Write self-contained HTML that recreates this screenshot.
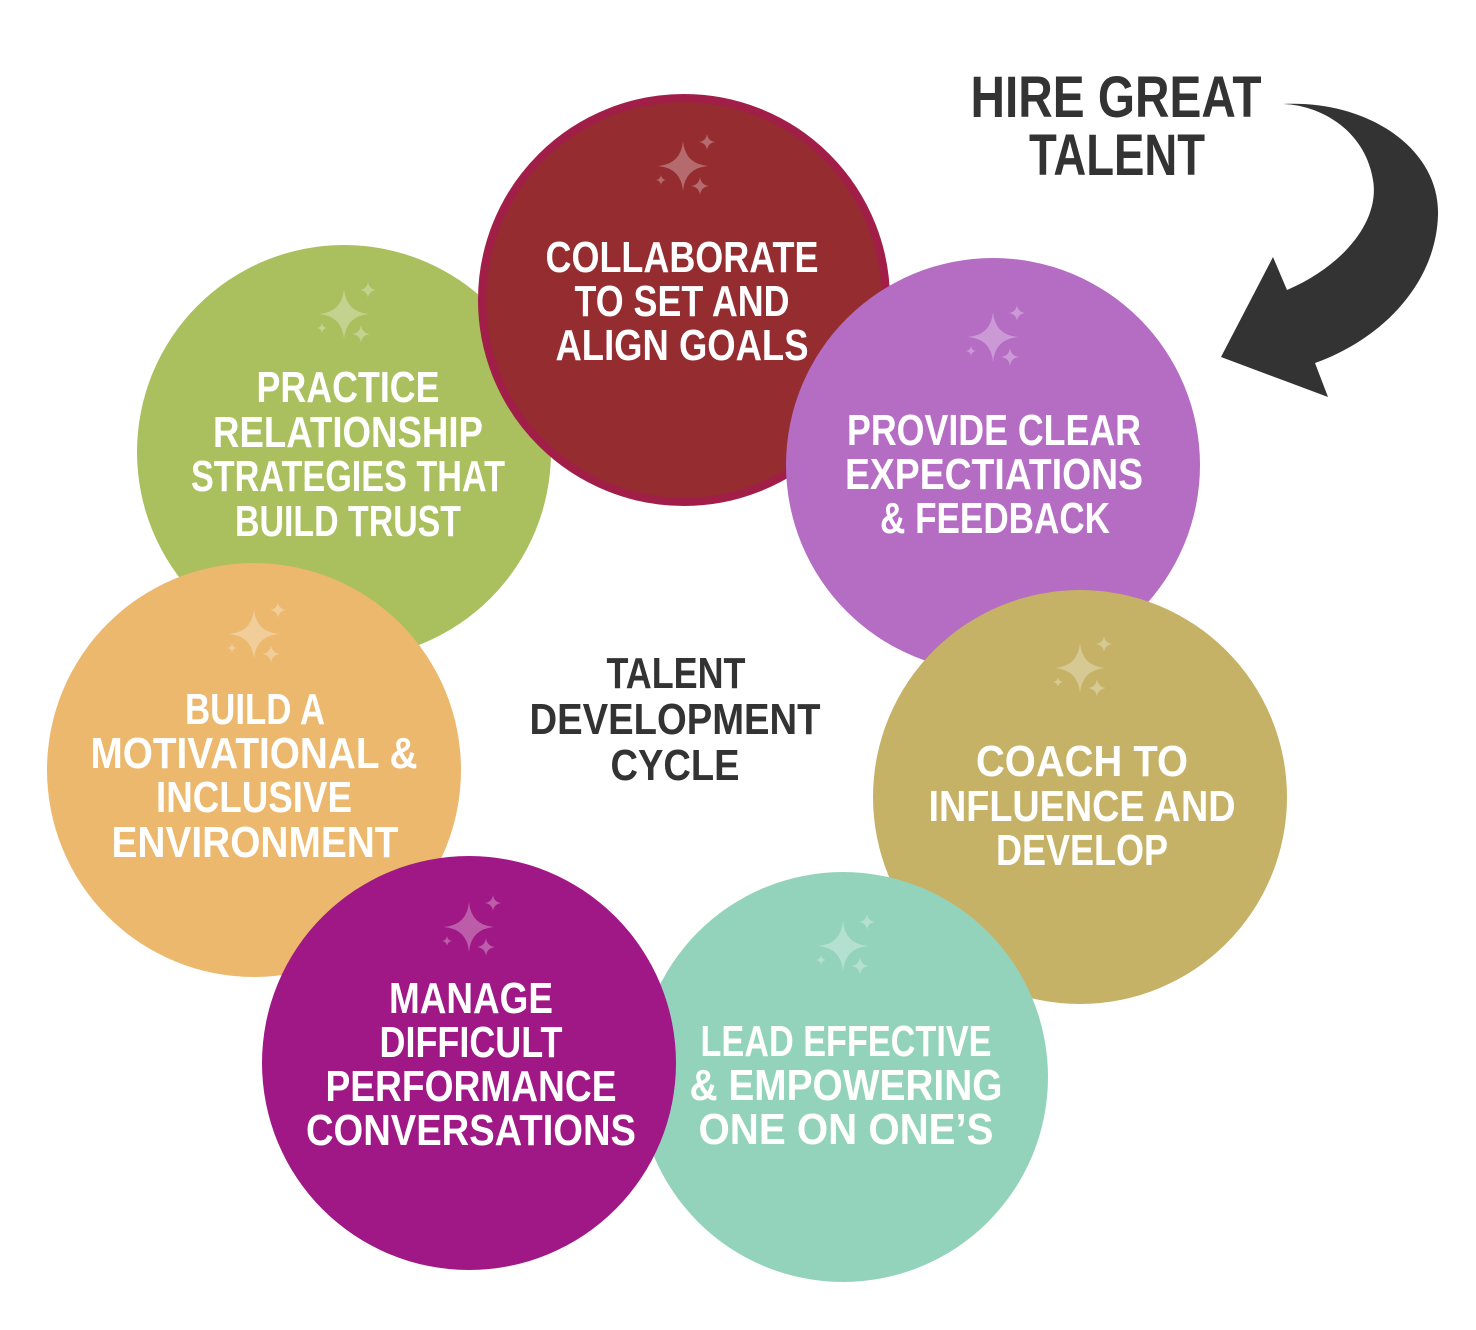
<!DOCTYPE html>
<html><head><meta charset="utf-8"><style>
html,body{margin:0;padding:0;background:#fff;}
svg{display:block}
text{font-family:"Liberation Sans",sans-serif;font-weight:bold;}
</style></head><body>
<svg width="1476" height="1330" viewBox="0 0 1476 1330" xmlns="http://www.w3.org/2000/svg">
<defs>
<g id="sp" fill="#fff" fill-opacity="0.3">
<path d="M0,-25 Q2,-2 25,0 Q2,2 0,25 Q-2,2 -25,0 Q-2,-2 0,-25Z"/>
<path transform="translate(24,-24)" d="M0,-8 Q1,-1 8,0 Q1,1 0,8 Q-1,1 -8,0 Q-1,-1 0,-8Z"/>
<path transform="translate(17,20)" d="M0,-9 Q1,-1 9,0 Q1,1 0,9 Q-1,1 -9,0 Q-1,-1 0,-9Z"/>
<path transform="translate(-22,14)" d="M0,-5 Q0.6,-0.6 5,0 Q0.6,0.6 0,5 Q-0.6,0.6 -5,0 Q-0.6,-0.6 0,-5Z"/>
</g>
</defs>

<!-- green -->
<circle cx="344" cy="452" r="207" fill="#AABF5E"/>
<use href="#sp" x="344" y="314"/>
<!-- orange -->
<circle cx="254" cy="770" r="207" fill="#EBB86D"/>
<use href="#sp" x="254" y="634"/>
<!-- red -->
<circle cx="684" cy="300" r="202" fill="#952C30" stroke="#A01E48" stroke-width="8"/>
<use href="#sp" x="683" y="166"/>
<!-- purple -->
<circle cx="993" cy="465" r="207" fill="#B56DC4"/>
<use href="#sp" x="993" y="337"/>
<!-- olive -->
<circle cx="1080" cy="797" r="207" fill="#C6B266"/>
<use href="#sp" x="1080" y="668"/>
<!-- teal -->
<circle cx="843" cy="1077" r="205" fill="#93D3BC"/>
<use href="#sp" x="843" y="946"/>
<!-- magenta -->
<circle cx="469" cy="1063" r="207" fill="#A01886"/>
<use href="#sp" x="469" y="927"/>

<g fill="#fff" font-size="44" text-anchor="middle" lengthAdjust="spacingAndGlyphs">
<text x="682" y="272" textLength="273" lengthAdjust="spacingAndGlyphs">COLLABORATE</text>
<text x="682" y="316" textLength="215" lengthAdjust="spacingAndGlyphs">TO SET AND</text>
<text x="682" y="360" textLength="253" lengthAdjust="spacingAndGlyphs">ALIGN GOALS</text>

<text x="348" y="402" textLength="183" lengthAdjust="spacingAndGlyphs">PRACTICE</text>
<text x="348" y="447" textLength="270" lengthAdjust="spacingAndGlyphs">RELATIONSHIP</text>
<text x="348" y="491" textLength="314" lengthAdjust="spacingAndGlyphs">STRATEGIES THAT</text>
<text x="348" y="536" textLength="226" lengthAdjust="spacingAndGlyphs">BUILD TRUST</text>

<text x="994" y="445" textLength="294" lengthAdjust="spacingAndGlyphs">PROVIDE CLEAR</text>
<text x="994" y="489" textLength="298" lengthAdjust="spacingAndGlyphs">EXPECTIATIONS</text>
<text x="995" y="533" textLength="230" lengthAdjust="spacingAndGlyphs">&amp; FEEDBACK</text>

<text x="1082" y="776" textLength="212" lengthAdjust="spacingAndGlyphs">COACH TO</text>
<text x="1082" y="821" textLength="307" lengthAdjust="spacingAndGlyphs">INFLUENCE AND</text>
<text x="1082" y="865" textLength="172" lengthAdjust="spacingAndGlyphs">DEVELOP</text>

<text x="255" y="724" textLength="140" lengthAdjust="spacingAndGlyphs">BUILD A</text>
<text x="254" y="768" textLength="327" lengthAdjust="spacingAndGlyphs">MOTIVATIONAL &amp;</text>
<text x="254" y="812" textLength="196" lengthAdjust="spacingAndGlyphs">INCLUSIVE</text>
<text x="255" y="857" textLength="287" lengthAdjust="spacingAndGlyphs">ENVIRONMENT</text>

<text x="471" y="1013" textLength="164" lengthAdjust="spacingAndGlyphs">MANAGE</text>
<text x="471" y="1057" textLength="183" lengthAdjust="spacingAndGlyphs">DIFFICULT</text>
<text x="471" y="1101" textLength="291" lengthAdjust="spacingAndGlyphs">PERFORMANCE</text>
<text x="471" y="1145" textLength="330" lengthAdjust="spacingAndGlyphs">CONVERSATIONS</text>

<text x="846" y="1056" textLength="291" lengthAdjust="spacingAndGlyphs">LEAD EFFECTIVE</text>
<text x="846" y="1100" textLength="313" lengthAdjust="spacingAndGlyphs">&amp; EMPOWERING</text>
<text x="846" y="1144" textLength="295" lengthAdjust="spacingAndGlyphs">ONE ON ONE’S</text>
</g>

<g fill="#333" font-size="44" text-anchor="middle">
<text x="676" y="688" textLength="139" lengthAdjust="spacingAndGlyphs">TALENT</text>
<text x="675" y="734" textLength="291" lengthAdjust="spacingAndGlyphs">DEVELOPMENT</text>
<text x="675" y="780" textLength="129" lengthAdjust="spacingAndGlyphs">CYCLE</text>
<text x="1116" y="117" font-size="58" textLength="291" lengthAdjust="spacingAndGlyphs">HIRE GREAT</text>
<text x="1117" y="175" font-size="58" textLength="176" lengthAdjust="spacingAndGlyphs">TALENT</text>
</g>

<path fill="#333" d="M1283,104 C1370,100 1440,150 1438,215 C1436,285 1380,340 1315,363 L1328,397 L1221,357 L1273,257 L1287,290 C1345,265 1380,220 1373,180 C1365,130 1320,105 1283,104 Z"/>
</svg>
</body></html>
